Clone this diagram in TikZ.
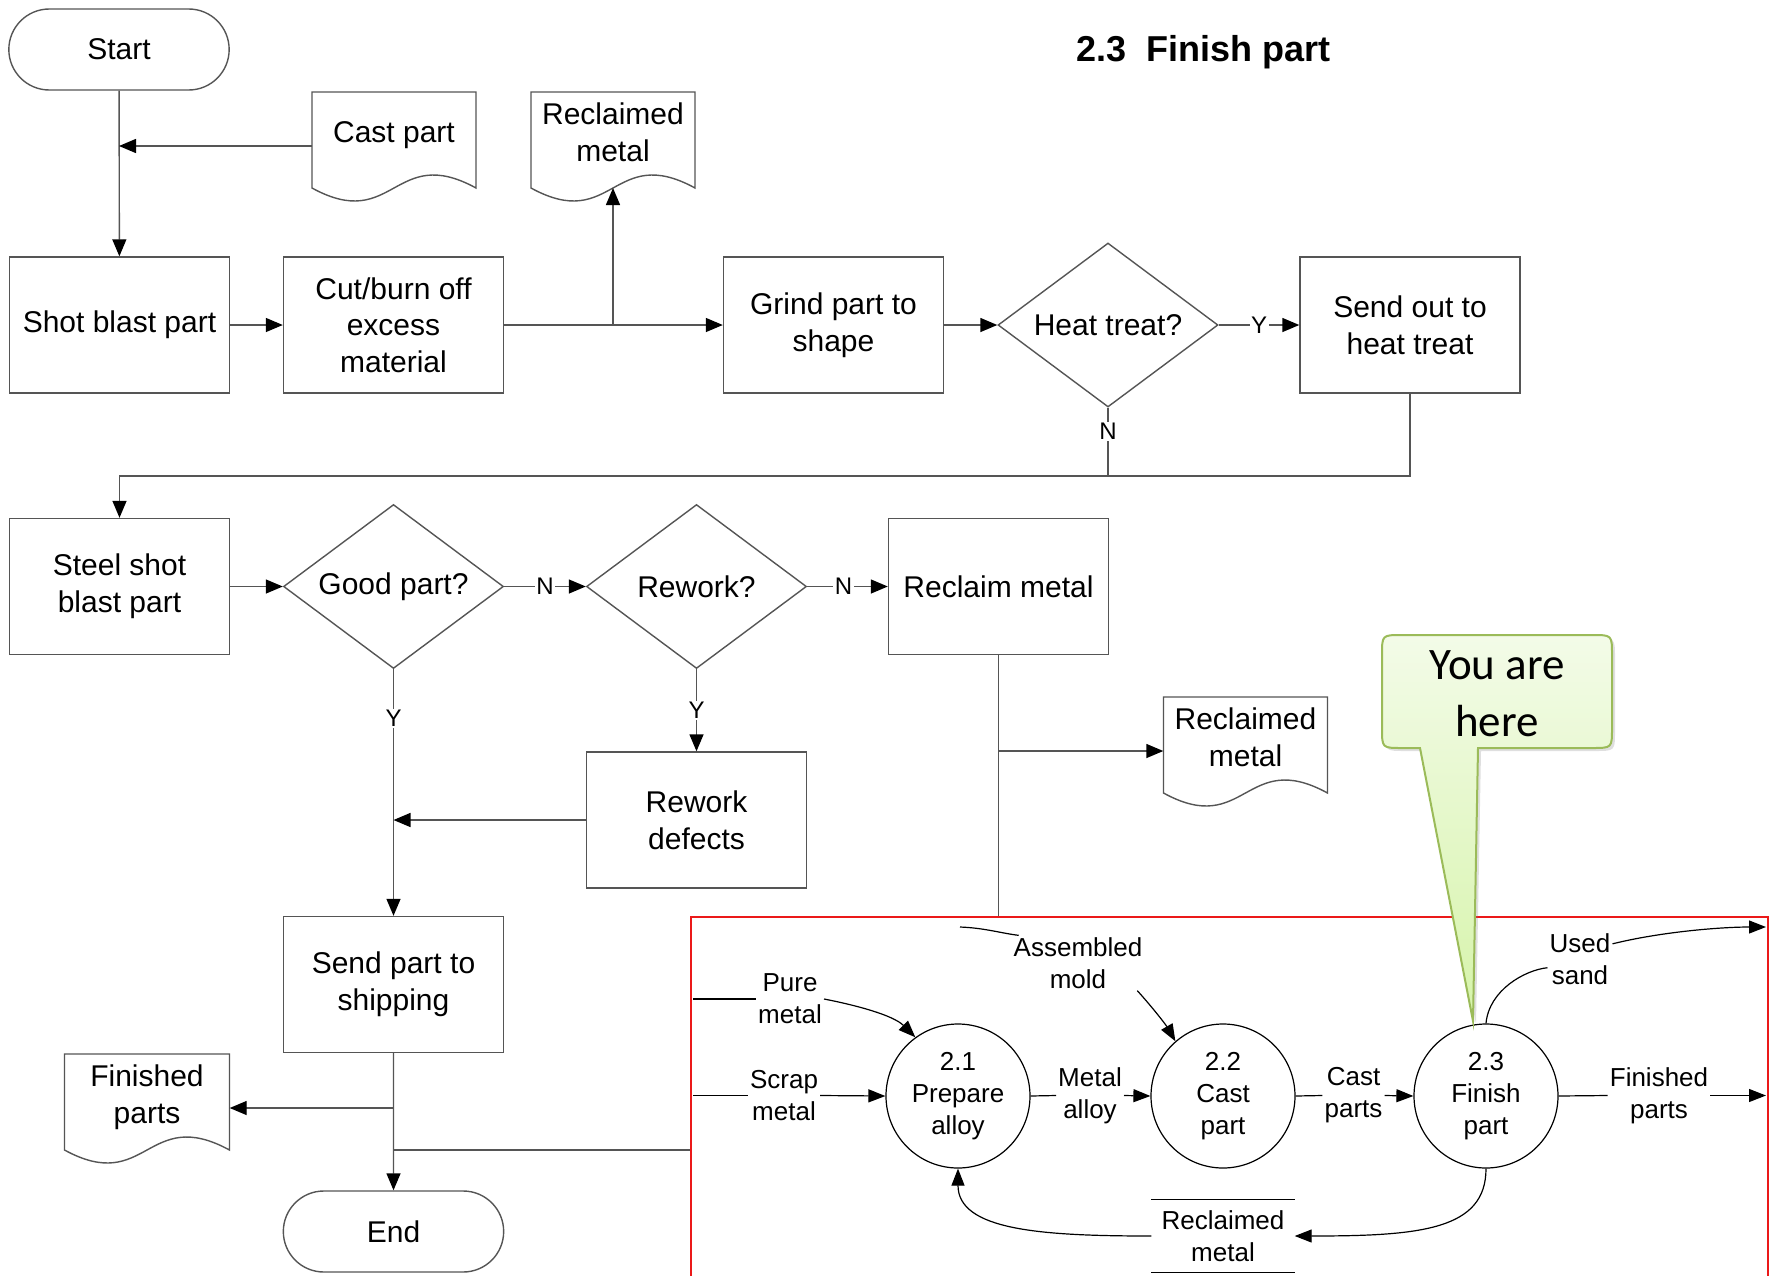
\documentclass[tikz,border=0pt]{standalone}
\usepackage{fontspec}
\setmainfont{Liberation Sans}
\newfontfamily\calloutfont{Carlito}
\usetikzlibrary{shapes.geometric,shapes.misc,arrows.meta,calc,shadows}

\definecolor{flowgray}{RGB}{85,85,85}
\definecolor{frame}{RGB}{235,25,25}
\definecolor{yahedge}{RGB}{155,187,89}
\definecolor{yahtop}{RGB}{243,251,232}
\definecolor{yahbot}{RGB}{214,244,170}

\newcommand\mainsz{\fontsize{30pt}{36.6pt}\selectfont}
\newcommand\smallsz{\fontsize{26pt}{31.8pt}\selectfont}
\newcommand\edgesz{\fontsize{24pt}{28pt}\selectfont}

\tikzset{
  flow/.style={draw=flowgray, line width=1.4pt},
  arr/.style={flow, -{Triangle[length=17pt,width=14pt,color=black]}},
  procbox/.style={flow, rectangle, minimum width=220pt, minimum height=136pt,
    align=center, font=\mainsz, inner sep=2pt},
  decision/.style={flow, diamond, aspect=1.34, minimum width=220pt,
    minimum height=164pt, inner sep=0pt, font=\mainsz},
  terminal/.style={flow, rounded rectangle, minimum width=227pt,
    minimum height=81pt, font=\mainsz},
  doctext/.style={align=center, font=\mainsz, inner sep=0pt},
  elab/.style={fill=white, font=\edgesz, inner sep=1.5pt},
  dfd/.style={draw=black, line width=1.2pt},
  darr/.style={dfd, -{Triangle[length=17pt,width=13pt]}},
  proc/.style={dfd, circle, minimum size=144pt, inner sep=0pt, align=center,
    font=\smallsz},
  flowlbl/.style={font=\smallsz, align=center, inner sep=2pt},
  yahbox/.style={draw=yahedge, line width=2pt, top color=yahtop,
    bottom color=yahbot,
    drop shadow={opacity=0.25, shadow xshift=3pt, shadow yshift=-3pt}}
}

% document symbol: name, x, y (text centre), width, text, top offset
\newcommand\docnode[6]{%
  \node[doctext, minimum width=#4pt] (#1) at (#2,#3) {#5};
  \draw[flow] ($(#1.center)+(-#4/2,96-#6)$) -- ($(#1.center)+(-#4/2,-#6)$)
    -- ($(#1.center)+(#4/2,-#6)$) -- ($(#1.center)+(#4/2,96-#6)$)
    .. controls ($(#1.center)+(0,51-#6)$) and ($(#1.center)+(0,141-#6)$)
    .. ($(#1.center)+(-#4/2,96-#6)$) -- cycle;
  \coordinate (#1-b) at ($(#1.center)+(0,96-#6)$);
}

\begin{document}
\begin{tikzpicture}[x=1pt,y=-1pt]
\useasboundingbox (0,0) rectangle (1773,1275);
\fill[white] (0,0) rectangle (1773,1275);
\clip (0,0) rectangle (1773,1275);

\node[font=\bfseries\fontsize{36pt}{40pt}\selectfont] (title) at (1203.5,52) {2.3\ \ Finish part};

% ---- flowchart ----
\node[terminal] (start) at (119,49.5) {Start};
\docnode{cast}{394}{135.5}{164}{Cast part}{43.5}
\docnode{reclA}{613}{132}{164}{Reclaimed\\metal}{40}
\node[procbox] (shot) at (119.5,325) {Shot blast part};
\node[procbox] (cut) at (393.5,325) {Cut/burn off\\excess\\material};
\node[procbox] (grind) at (833.5,325) {Grind part to\\shape};
\node[decision] (heat) at (1108,325) {Heat treat?};
\node[procbox] (sendout) at (1410,325) {Send out to\\heat treat};
\node[procbox] (steel) at (119.5,586.5) {Steel shot\\blast part};
\node[decision] (good) at (393.5,586.5) {Good part?};
\node[decision] (rework) at (696.5,586.5) {Rework?};
\node[procbox] (reclaim) at (998.5,586.5) {Reclaim metal};
\node[procbox] (defects) at (696.5,820) {Rework\\defects};
\docnode{reclB}{1245.5}{737}{164}{Reclaimed\\metal}{40}
\node[procbox] (ship) at (393.5,984.5) {Send part to\\shipping};
\docnode{fin}{147}{1097}{165}{Finished\\parts}{43}
\node[terminal] (end) at (393.5,1231.5) {End};

\coordinate (castrow) at (0,146);
\coordinate (jcast) at (start.south |- castrow);
\draw[arr] (start) -- (shot);
\draw[arr] (cast.west |- castrow) -- (jcast);
\draw[arr] (shot) -- (cut);
\draw[arr] (cut) -- (grind);
\coordinate (jrecl) at (reclA-b |- cut.east);
\draw[arr] (jrecl) -- (reclA-b);
\draw[arr] (grind) -- (heat);
\draw[arr] (heat) -- node[elab]{Y} (sendout);
\coordinate (bus) at (0,476);
\draw[flow] (heat.south) -- node[elab,pos=0.35]{N} (heat.south |- bus);
\draw[arr] (sendout.south) -- (sendout.south |- bus) -- (steel.north |- bus) -- (steel.north);
\draw[arr] (steel) -- (good);
\draw[arr] (good) -- node[elab]{N} (rework);
\draw[arr] (rework) -- node[elab,pos=0.45]{N} (reclaim);
\draw[arr] (good.south) -- node[elab,pos=0.2]{Y} (ship.north);
\draw[arr] (rework.south) -- node[elab]{Y} (defects.north);
\draw[arr] (defects.west) -- (defects.west -| good.south);
\coordinate (redtop) at (998.5,917);
\draw[flow] (reclaim.south) -- (reclaim.south |- redtop);
\coordinate (reclBin) at ([yshift=-14pt]reclB.west);
\draw[arr] (reclBin -| reclaim.south) -- (reclBin);
\draw[arr] (ship) -- (end);
\coordinate (finrow) at (0,1108);
\draw[arr] (ship.south |- finrow) -- (fin.east |- finrow);
\coordinate (redleft) at (691,1150);
\draw[flow] (redleft) -- (redleft -| ship.south);

% ---- data flow detail ----
\draw[draw=frame, line width=2pt] (691,917) rectangle (1768,1300);

\node[proc] (p1) at (958,1096) {2.1\\Prepare\\alloy};
\node[proc] (p2) at (1223,1096) {2.2\\Cast\\part};
\node[proc] (p3) at (1486,1096) {2.3\\Finish\\part};

\node[flowlbl] (pure) at (790,999) {Pure\\metal};
\node[flowlbl] (scrap) at (784,1095.5) {Scrap\\metal};
\node[flowlbl] (alloy) at (1090,1095.5) {Metal\\alloy};
\node[flowlbl] (castp) at (1353.5,1095.5) {Cast\\parts};
\node[flowlbl] (finp) at (1659,1095.5) {Finished\\parts};
\node[flowlbl] (mold) at (1078,963) {Assembled\\mold};
\node[flowlbl] (sand) at (1580,959) {Used\\sand};
\node[flowlbl, minimum width=143pt, minimum height=72pt] (store) at (1223,1236) {Reclaimed\\metal};
\draw[dfd] (store.north west) -- (store.north east) (store.south west) -- (store.south east);

\coordinate (inpure) at (693,999);
\coordinate (inscrap) at (693,1095.5);
\coordinate (inmold) at (960,927);
\coordinate (outfin) at (1766,1095.5);
\coordinate (outsand) at (1766,927);

\draw[dfd] (inpure) -- (pure.west);
\draw[darr] (pure.east) .. controls (855,1005) and (893,1015) .. (p1.126);
\draw[dfd] (inscrap) -- (scrap.west);
\draw[darr] (scrap.east) -- (p1.west);
\draw[dfd] (p1.east) -- (alloy.west);
\draw[darr] (alloy.east) -- (p2.west);
\draw[dfd] (p2.east) -- (castp.west);
\draw[darr] (castp.east) -- (p3.west);
\draw[dfd] (p3.east) -- (finp.west);
\draw[darr] (finp.east) -- (outfin);
\draw[dfd] (inmold) .. controls (985,928) and (1000,933) .. (mold.155);
\draw[darr] (mold.-25) .. controls (1153,1008) and (1166,1025) .. (p2.131);
\draw[dfd] (p3.north) .. controls (1489,990) and (1525,970) .. (sand.195);
\draw[darr] (sand.25) .. controls (1660,932) and (1720,927) .. (outsand);
\draw[darr] (p3.south) .. controls (1486,1230) and (1420,1236) .. (store.east);
\draw[darr] (store.west) .. controls (1040,1236) and (958,1230) .. (p1.south);

% ---- "you are here" marker ----
\draw[yahbox] (1402,635) -- (1592,635) .. controls (1612,635) .. (1612,655)
  -- (1612,728) .. controls (1612,748) .. (1592,748) -- (1478,748)
  -- (1473,1021) -- (1420,748) -- (1402,748) .. controls (1382,748) .. (1382,728)
  -- (1382,655) .. controls (1382,635) .. (1402,635) -- cycle;
\node[font=\calloutfont\fontsize{45pt}{57pt}\selectfont, align=center, inner sep=0pt] (yah) at (1497,694) {You are\\here};
\end{tikzpicture}
\end{document}
